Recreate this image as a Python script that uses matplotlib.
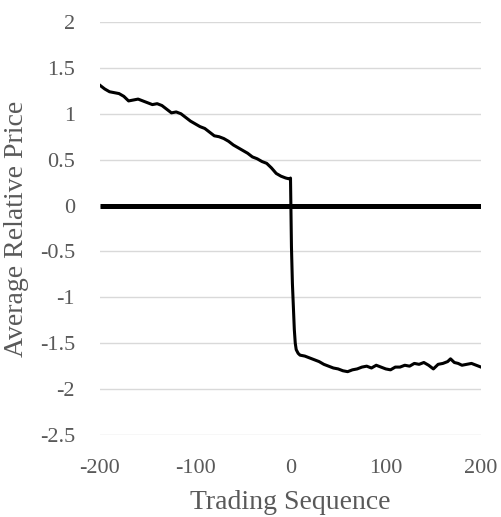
import matplotlib
matplotlib.use("Agg")
from matplotlib import pyplot as plt

# trading sequence (x) and average relative price (y)
seq = [-200, -195, -190, -185, -180, -175, -170, -165, -160, -155, -150, -145, -140, -135,
       -130, -125, -120, -115, -110, -105, -100, -95, -90, -85, -80, -75, -70, -65, -60,
       -55, -50, -45, -40, -35, -30, -25, -20, -15, -10, -5, -1, 0,
       1, 2, 3, 4, 5, 6, 8, 10, 15, 20, 25, 30, 35, 40, 45, 50, 55, 60, 65, 70, 75, 80,
       85, 90, 95, 100, 105, 110, 115, 120, 125, 130, 135, 140, 145, 150, 155, 160, 165,
       168, 172, 176, 180, 185, 190, 195, 200]
price = [1.31, 1.27, 1.24, 1.23, 1.22, 1.19, 1.14, 1.15, 1.16, 1.14, 1.12, 1.10, 1.11, 1.09,
         1.05, 1.01, 1.02, 1.00, 0.96, 0.92, 0.89, 0.86, 0.84, 0.80, 0.76, 0.75, 0.73, 0.70, 0.66,
         0.63, 0.60, 0.57, 0.53, 0.51, 0.48, 0.46, 0.41, 0.35, 0.32, 0.30, 0.29, 0.30,
         -0.45, -0.85, -1.10, -1.35, -1.50, -1.57, -1.61, -1.63, -1.64, -1.66, -1.68, -1.70,
         -1.73, -1.75, -1.77, -1.78, -1.80, -1.81, -1.79, -1.78, -1.76, -1.75, -1.77, -1.74,
         -1.76, -1.78, -1.79, -1.76, -1.76, -1.74, -1.75, -1.72, -1.73, -1.71, -1.74, -1.78,
         -1.73, -1.72, -1.70, -1.67, -1.71, -1.72, -1.74, -1.73, -1.72, -1.74, -1.76]
zero_x = [-200, 200]
zero_y = [0, 0]

xticks = [-200, -100, 0, 100, 200]
yticks = [-2.5, -2, -1.5, -1, -0.5, 0, 0.5, 1, 1.5, 2]

plt.rcParams['font.family'] = ['Liberation Serif', 'DejaVu Serif']
plt.rcParams['axes.unicode_minus'] = False
grey = '#595959'

fig = plt.figure(figsize=(5.01, 5.17), dpi=100)
ax = fig.add_axes([100 / 501, 82 / 517, 381 / 501, 413 / 517])

ax.plot(zero_x, zero_y, color='black', lw=3.6, solid_capstyle='butt', zorder=3)
ax.plot(seq, price, color='black', lw=2.2, zorder=4)

ax.set_xlim(-200, 200)
ax.set_ylim(-2.5, 2)
ax.set_xticks(xticks)
ax.set_yticks(yticks)
ax.set_xticklabels([f'{v:g}' for v in xticks])
ax.set_yticklabels([f'{v:g}' for v in yticks])
ax.grid(axis='y', color='#d9d9d9', lw=1)
ax.set_axisbelow(True)
for s in ax.spines.values():
    s.set_visible(False)
ax.tick_params(length=0, labelsize=16, colors=grey)
ax.tick_params(axis='x', pad=17)
ax.tick_params(axis='y', pad=18)

ax.set_xlabel('Trading Sequence', fontsize=20, color=grey, labelpad=9)
ax.set_ylabel('Average Relative Price', fontsize=20, color=grey, labelpad=8)

fig.savefig('out.png', dpi=100)
